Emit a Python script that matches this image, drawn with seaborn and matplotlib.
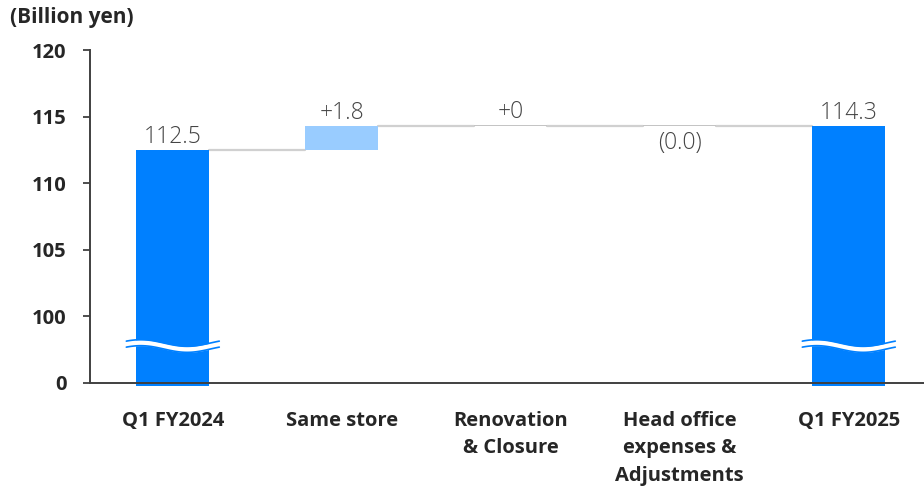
import numpy as np
import pandas as pd
import matplotlib
matplotlib.use('Agg')
import matplotlib.pyplot as plt
import seaborn as sns

# Data
categories = ['Q1 FY2024', 'Same store', 'Renovation\n& Closure',
              'Head office\nexpenses &\nAdjustments', 'Q1 FY2025']
changes = [112.5, 1.8, 0.0, 0.0, 114.3]
kinds = ['total', 'delta', 'delta', 'delta', 'total']
value_labels = ['112.5', '+1.8', '+0', '(0.0)', '114.3']
y_ticks = [0, 100, 105, 110, 115, 120]

# broken axis: 0 is drawn where 95 would be
AXIS_FLOOR = 95

sns.set_theme(style='white')
plt.rcParams['font.family'] = ['Open Sans', 'DejaVu Sans']

# Waterfall bottoms / heights
bottoms, heights, levels = [], [], []
running = 0
for v, k in zip(changes, kinds):
    if k == 'total':
        bottoms.append(AXIS_FLOOR - 0.2)
        heights.append(v - AXIS_FLOOR + 0.2)
        running = v
    else:
        bottoms.append(running)
        heights.append(v)
        running = running + v
    levels.append(running)

colors = []
for v, k in zip(changes, kinds):
    if k == 'total':
        colors.append('#0080FF')
    elif v > 0:
        colors.append('#99CCFF')
    else:
        colors.append('#C4C4C4')

# tiny visible height for zero changes
heights = [h if abs(h) > 0.01 else 0.1 for h in heights]

df = pd.DataFrame({'cat': categories, 'h': heights})

fig = plt.figure(figsize=(9.24, 4.86), dpi=100)
ax = fig.add_axes([0.0974, 0.212, 0.9026, 0.685])

sns.barplot(data=df, x='cat', y='h', bottom=bottoms, width=0.43,
            color='#0080FF', ax=ax, zorder=3)
for p, c in zip(ax.patches, colors):
    p.set_facecolor(c)
    p.set_edgecolor('none')
    p.set_clip_on(False)

# connectors
bw = 0.43
for i in range(len(categories) - 1):
    ax.plot([i + bw / 2, i + 1 - bw / 2], [levels[i], levels[i]],
            color='#D0D0D0', lw=1.6, zorder=2)

# value labels
for i, (lab, v, k) in enumerate(zip(value_labels, changes, kinds)):
    if k == 'delta' and v == 0 and lab.startswith('('):
        ax.text(i, levels[i] - 0.4, lab, ha='center', va='top',
                fontsize=16.5, color='#444444', fontweight='light')
    else:
        top = bottoms[i] + heights[i]
        ax.text(i, top + 0.05, lab, ha='center', va='bottom',
                fontsize=16.5, color='#444444', fontweight='light')

# break marks on total bars
t = np.linspace(0, 1, 60)
for i, k in enumerate(kinds):
    if k != 'total':
        continue
    xs = i - 0.275 + 0.55 * t
    upper = 98.0 + 0.25 * np.sin(2 * np.pi * t + 0.6)
    lower = upper - 0.45
    ax.fill_between(xs, lower, upper, color='white', zorder=4, lw=0)
    ax.plot(xs, upper, color='#0080FF', lw=1.2, zorder=5)
    ax.plot(xs, lower, color='#0080FF', lw=1.2, zorder=5)

ax.set_xlim(-0.49, 4.445)
ax.set_ylim(AXIS_FLOOR, 120)
ax.set_yticks([AXIS_FLOOR] + y_ticks[1:])
ax.set_yticklabels([str(v) for v in y_ticks], fontsize=14.5,
                   fontweight='bold', color='#262626')
ax.set_xticks(range(len(categories)))
ax.set_xticklabels(categories, fontsize=14.5, fontweight='bold',
                   color='#262626', linespacing=1.5)
ax.set_xlabel('')
ax.set_ylabel('')

ax.tick_params(axis='y', which='both', left=True, length=5, width=1.3,
               color='#404040', pad=12)
ax.tick_params(axis='x', bottom=False, pad=14)
for s in ['top', 'right']:
    ax.spines[s].set_visible(False)
for s in ['left', 'bottom']:
    ax.spines[s].set_color('#404040')
    ax.spines[s].set_linewidth(1.4)
ax.spines['bottom'].set_zorder(6)

fig.text(0.011, 0.965, '(Billion yen)', fontsize=15, fontweight='bold',
         color='#262626', ha='left', va='center')

fig.savefig('out.png', dpi=100)
